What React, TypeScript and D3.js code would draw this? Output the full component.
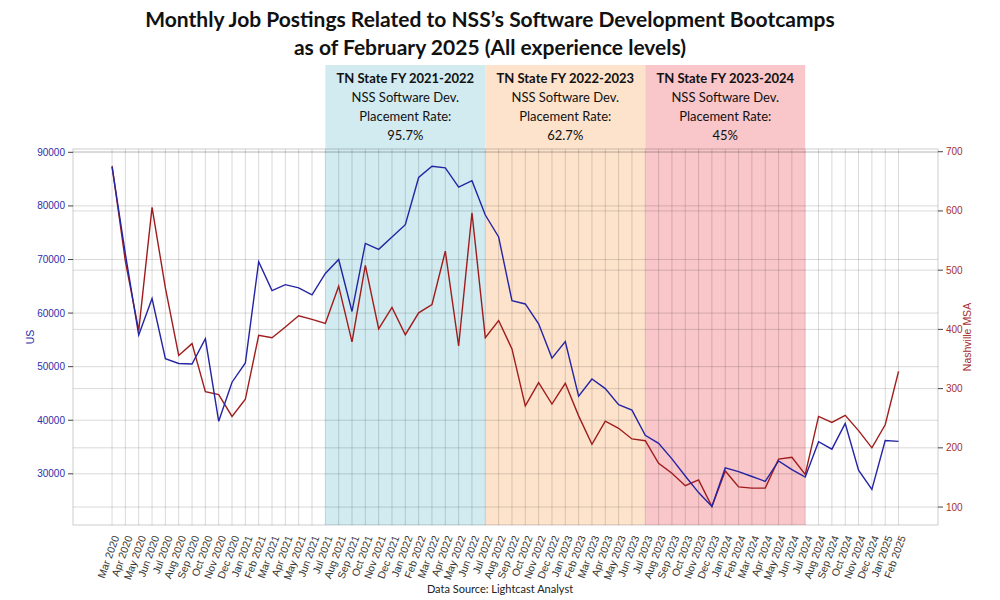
import React from "react";
import * as d3 from "d3";

const months: string[] = [
  "Mar 2020","Apr 2020","May 2020","Jun 2020","Jul 2020","Aug 2020","Sep 2020","Oct 2020","Nov 2020","Dec 2020",
  "Jan 2021","Feb 2021","Mar 2021","Apr 2021","May 2021","Jun 2021","Jul 2021","Aug 2021","Sep 2021","Oct 2021","Nov 2021","Dec 2021",
  "Jan 2022","Feb 2022","Mar 2022","Apr 2022","May 2022","Jun 2022","Jul 2022","Aug 2022","Sep 2022","Oct 2022","Nov 2022","Dec 2022",
  "Jan 2023","Feb 2023","Mar 2023","Apr 2023","May 2023","Jun 2023","Jul 2023","Aug 2023","Sep 2023","Oct 2023","Nov 2023","Dec 2023",
  "Jan 2024","Feb 2024","Mar 2024","Apr 2024","May 2024","Jun 2024","Jul 2024","Aug 2024","Sep 2024","Oct 2024","Nov 2024","Dec 2024",
  "Jan 2025","Feb 2025",
];

const usPostings: number[] = [
  87300, 71000, 55900, 62700, 51500, 50600, 50500, 55200, 39800, 47100,
  50700, 69600, 64200, 65300, 64700, 63400, 67400, 70000, 60300, 73000, 71900, 74200,
  76500, 85300, 87400, 87100, 83500, 84700, 78300, 74200, 62300, 61700, 58000, 51600,
  54700, 44500, 47700, 45900, 42900, 41900, 37200, 35700, 32800, 29600, 26500, 23900,
  31100, 30400, 29500, 28600, 32400, 30800, 29400, 36000, 34600, 39400, 30700, 27100,
  36200, 36050,
];

const nashvillePostings: number[] = [
  676, 515, 398, 606, 470, 356, 376, 295, 290, 253,
  282, 390, 386, 404, 423, 417, 410, 473, 379, 508, 401, 437,
  391, 428, 442, 532, 372, 597, 386, 415, 367, 271, 310, 274,
  309, 254, 206, 245, 233, 215, 212, 174, 157, 136, 146, 101,
  161, 134, 132, 132, 181, 184, 155, 253, 243, 255, 229, 200,
  239, 329,
];

const usTicks: number[] = [30000, 40000, 50000, 60000, 70000, 80000, 90000];
const nashTicks: number[] = [100, 200, 300, 400, 500, 600, 700];

const fyPeriods = [
  { start: "Jul 2021", end: "Jul 2022", label: "TN State FY 2021-2022", rate: "95.7%", color: "#d1ebf0" },
  { start: "Jul 2022", end: "Jul 2023", label: "TN State FY 2022-2023", rate: "62.7%", color: "#fde3cc" },
  { start: "Jul 2023", end: "Jul 2024", label: "TN State FY 2023-2024", rate: "45%", color: "#f9c6c9" },
];

export default function App() {
  const W = 1000, H = 600;
  const left = 73, right = 938, top = 149, bottom = 525;

  const x = d3.scaleLinear().domain([-2.93, months.length - 1 + 2.96]).range([left, right]);
  const yL = d3.scaleLinear().domain([20450, 90620]).range([bottom, top]);
  const yR = d3.scaleLinear().domain([69.7, 704.6]).range([bottom, top]);

  const lineUS = d3.line<number>().x((_, i) => x(i)).y((d) => yL(d));
  const lineNash = d3.line<number>().x((_, i) => x(i)).y((d) => yR(d));

  const sans = "'Liberation Sans', Arial, sans-serif";
  const lato = "Lato, 'Open Sans', sans-serif";
  const grid = "rgba(0,0,0,0.15)";

  return (
    <svg width={W} height={H} style={{ position: "absolute", left: 0, top: 0, background: "#fff" }}>
      {/* title */}
      <text x={490} y={27} textAnchor="middle" fontFamily={lato} fontWeight={700} fontSize={21} fill="#111">
        Monthly Job Postings Related to NSS’s Software Development Bootcamps
      </text>
      <text x={490} y={55} textAnchor="middle" fontFamily={lato} fontWeight={700} fontSize={21} fill="#111">
        as of February 2025 (All experience levels)
      </text>

      {/* shaded FY periods */}
      {fyPeriods.map((p) => {
        const x0 = x(months.indexOf(p.start));
        const x1 = x(months.indexOf(p.end));
        const cx = (x0 + x1) / 2;
        return (
          <g key={p.label}>
            <rect x={x0} y={65} width={x1 - x0} height={bottom - 65} fill={p.color} />
            <text x={cx} y={83} textAnchor="middle" fontFamily={lato} fontWeight={700} fontSize={13} fill="#111">{p.label}</text>
            <text x={cx} y={102} textAnchor="middle" fontFamily={lato} fontSize={13} fill="#111">NSS Software Dev.</text>
            <text x={cx} y={121} textAnchor="middle" fontFamily={lato} fontSize={13} fill="#111">Placement Rate:</text>
            <text x={cx} y={140} textAnchor="middle" fontFamily={lato} fontSize={13} fill="#111">{p.rate}</text>
          </g>
        );
      })}

      {/* grid */}
      {usTicks.map((t) => (
        <line key={"gl" + t} x1={left} x2={right} y1={yL(t)} y2={yL(t)} stroke={grid} strokeWidth={1} />
      ))}
      {nashTicks.map((t) => (
        <line key={"gr" + t} x1={left} x2={right} y1={yR(t)} y2={yR(t)} stroke={grid} strokeWidth={1} />
      ))}
      {months.map((m, i) => (
        <line key={"gv" + m} x1={x(i)} x2={x(i)} y1={top} y2={bottom} stroke={grid} strokeWidth={1} />
      ))}
      <rect x={left} y={top} width={right - left} height={bottom - top} fill="none" stroke="rgba(0,0,0,0.2)" strokeWidth={1} />

      {/* left axis */}
      {usTicks.map((t) => (
        <g key={"tl" + t}>
          <line x1={left - 5} x2={left} y1={yL(t)} y2={yL(t)} stroke="#444" strokeWidth={1} />
          <text x={left - 8} y={yL(t)} dy="0.35em" textAnchor="end" fontFamily={sans} fontSize={10} fill="#2e2ea8">{t}</text>
        </g>
      ))}
      <text transform={`translate(34,${(top + bottom) / 2}) rotate(-90)`} textAnchor="middle" fontFamily={sans} fontSize={10.5} fill="#2e2ea8">US</text>

      {/* right axis */}
      {nashTicks.map((t) => (
        <g key={"tr" + t}>
          <line x1={right} x2={right + 5} y1={yR(t)} y2={yR(t)} stroke="#444" strokeWidth={1} />
          <text x={right + 8} y={yR(t)} dy="0.35em" textAnchor="start" fontFamily={sans} fontSize={10} fill="#a33030">{t}</text>
        </g>
      ))}
      <text transform={`translate(971,${(top + bottom) / 2}) rotate(-90)`} textAnchor="middle" fontFamily={sans} fontSize={10.5} fill="#a33030">Nashville MSA</text>

      {/* x labels */}
      {months.map((m, i) => (
        <text key={"xl" + m} transform={`translate(${x(i) + 4},536) rotate(-70)`} dy="0.35em" textAnchor="end" fontFamily={sans} fontSize={10.5} fill="#333">{m}</text>
      ))}

      {/* lines */}
      <path d={lineNash(nashvillePostings) || ""} fill="none" stroke="#a01c1c" strokeWidth={1.4} />
      <path d={lineUS(usPostings) || ""} fill="none" stroke="#2424a4" strokeWidth={1.4} />

      <text x={500} y={593} textAnchor="middle" fontFamily={lato} fontSize={11} fill="#222">Data Source: Lightcast Analyst</text>
    </svg>
  );
}
